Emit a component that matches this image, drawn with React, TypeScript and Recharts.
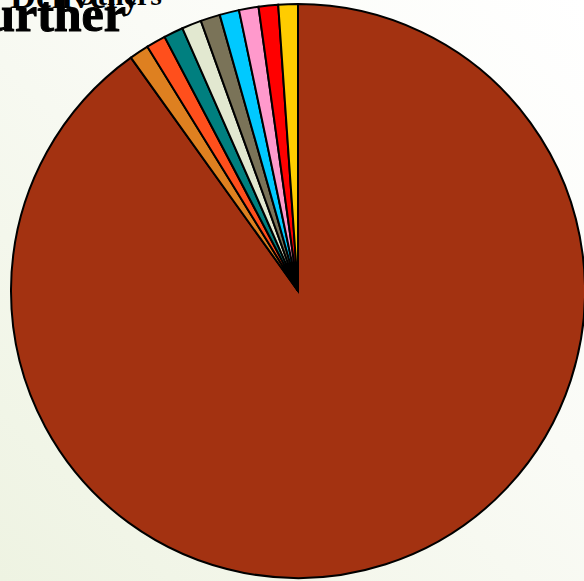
import React from 'react';
import { PieChart, Pie, Cell } from 'recharts';

// slice names and shares (brown takes ~90%, nine thin ones ~1.1% each)
const NAMES = ['Main', 'Partner', 'Further', 'Delivery', 'Others', 'Service', 'Support', 'Sales', 'Events', 'Misc'];
const VALUES = [82, 1, 1, 1, 1, 1, 1, 1, 1, 1];
const COLORS = ['#A33211', '#DE8020', '#FF4F1C', '#007F7F', '#E2E8D0', '#7A7358', '#00C9FF', '#FF99CC', '#FF0000', '#FFCC00'];

const data = NAMES.map((name, i) => ({ name, value: VALUES[i] }));

// Labels sit in a pile at the top-left, mostly cut off by the frame
const Labels = () => (
  <g style={{ fontFamily: '"Liberation Serif", serif', fontWeight: 700 }}>
    <text x={162} y={5} fontSize={30} textAnchor="end" fill="#000">Others</text>
    <text x={140} y={8} fontSize={36} textAnchor="end" fill="#000">Delivery</text>
    <text x={126} y={31} fontSize={50} textAnchor="end" fill="#000" stroke="#000" strokeWidth={1}>Further</text>
  </g>
);

const App: React.FC = () => (
  <div
    style={{
      position: 'fixed', top: 0, left: 0, width: 584, height: 581, overflow: 'hidden',
      background: 'linear-gradient(225deg, #FFFFFF 0%, #FAFBF6 40%, #EEF3E2 100%)',
    }}
  >
    <PieChart width={584} height={581} margin={{ top: 0, right: 0, bottom: 0, left: 0 }}>
      <Pie
        data={data}
        dataKey="value"
        nameKey="name"
        cx={298}
        cy={291}
        outerRadius={287}
        startAngle={90}
        endAngle={-270}
        stroke="#000"
        strokeWidth={2}
        isAnimationActive={false}
      >
        {data.map((d, i) => <Cell key={d.name} fill={COLORS[i]} />)}
      </Pie>
      <Labels />
    </PieChart>
  </div>
);

export default App;
